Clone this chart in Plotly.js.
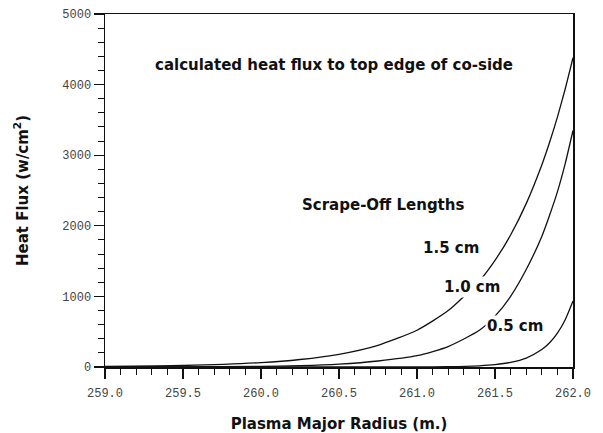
<!DOCTYPE html>
<html>
<head>
<meta charset="utf-8">
<script src="https://cdn.plot.ly/plotly-3.0.1.min.js"></script>
<style>html,body{margin:0;padding:0;background:#fff;}#chart{width:603px;height:433px;}</style>
</head>
<body>
<div id="chart"></div>
<script>
// Plasma major radius (m.)
const radius = [259.0, 259.5, 260.0, 260.25, 260.5, 260.75, 261.0, 261.2, 261.4, 261.5, 261.6, 261.7, 261.8, 261.85, 261.9, 261.95, 262.0];
// Heat flux (w/cm^2) for each scrape-off length
const flux15 = [7, 21, 62, 106, 180, 307, 521, 799, 1220, 1511, 1870, 2314, 2862, 3183, 3540, 3938, 4380];
const flux10 = [0, 2, 9, 19, 41, 85, 160, 290, 520, 720, 1000, 1380, 1850, 2150, 2480, 2880, 3350];
const flux05 = [0, 0, 0, 0, 0, 0, 1, 4, 17, 33, 65, 127, 247, 344, 480, 670, 935];

const seriesNames = ["1.5 cm", "1.0 cm", "0.5 cm"];
const seriesData = [flux15, flux10, flux05];
// label anchor positions (data coords)
const labelX = [261.22, 261.35, 261.63];
const labelY = [1690, 1140, 575];

const traces = seriesData.map((ys, i) => ({
  x: radius, y: ys, type: 'scatter', mode: 'lines', name: seriesNames[i],
  line: {color: '#111', width: 1.3, shape: 'spline', smoothing: 0.6},
  hoverinfo: 'skip'
}));

const boldFamily = 'DejaVu Sans, Liberation Sans, Arial, sans-serif';
const labelFont = {family: boldFamily, size: 15, color: '#111'};
const annotations = seriesNames.map((n, i) => ({
  x: labelX[i], y: labelY[i], xref: 'x', yref: 'y', text: '<b>' + n + '</b>',
  showarrow: false, font: labelFont, bgcolor: '#fff', borderpad: 1
}));
annotations.push({
  x: 260.47, y: 4280, xref: 'x', yref: 'y', showarrow: false,
  text: '<b>calculated heat flux to top edge of co-side</b>', font: labelFont
});
annotations.push({
  x: 260.78, y: 2290, xref: 'x', yref: 'y', showarrow: false,
  text: '<b>Scrape-Off Lengths</b>', font: labelFont
});

const axisCommon = {
  showgrid: false, zeroline: false, showline: true, mirror: true,
  linecolor: '#111', linewidth: 1.5, ticks: 'outside', tickcolor: '#111',
  tickwidth: 1.2, ticklen: 10,
  tickfont: {family: 'Liberation Mono, Courier New, monospace', size: 12, color: '#444'}
};

const layout = {
  width: 603, height: 433,
  margin: {l: 105, r: 30, t: 14, b: 66},
  paper_bgcolor: '#fff', plot_bgcolor: '#fff',
  showlegend: false,
  xaxis: Object.assign({}, axisCommon, {
    range: [259, 262], dtick: 0.5, tick0: 259, tickformat: '.1f',
    ticklabelstandoff: 4,
    minor: {dtick: 0.1, ticklen: 6, tickcolor: '#111', tickwidth: 1, ticks: 'outside'},
    title: {text: '<b>Plasma Major Radius (m.)</b>', standoff: 20,
      font: {family: boldFamily, size: 15, color: '#111'}}
  }),
  yaxis: Object.assign({}, axisCommon, {
    range: [0, 5000], dtick: 1000, tick0: 0,
    minor: {dtick: 200, ticklen: 6, tickcolor: '#111', tickwidth: 1, ticks: 'outside'},
    title: {text: '<b>Heat Flux (w/cm<sup>2</sup>)</b>', standoff: 30,
      font: {family: boldFamily, size: 15, color: '#111'}}
  }),
  annotations: annotations
};

Plotly.newPlot('chart', traces, layout, {staticPlot: true, displayModeBar: false});
</script>
</body>
</html>
